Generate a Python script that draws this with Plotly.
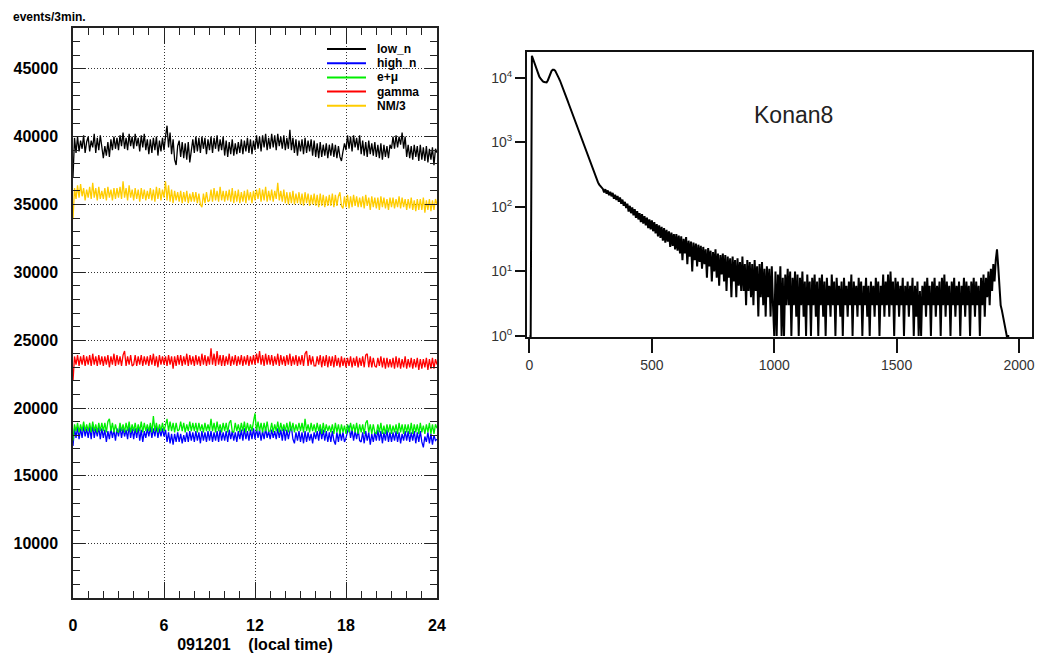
import plotly.graph_objects as go

W, H = 1037, 653

# ---------------- left panel data: counts per 3 min, sampled every 0.1 h ----------------
series_names = ["low_n", "high_n", "e+\u03bc", "gamma", "NM/3"]
series_colors = ["#000000", "#0000ff", "#00ee00", "#ff0000", "#ffcc00"]

low_n = [
    37000, 39900, 38800, 40000, 38900, 39700, 39100, 40100, 38800, 39600,
    40000, 38900, 39700, 39200, 40200, 38800, 39900, 39000, 40100, 39300,
    38400, 39300, 38600, 39600, 38500, 39800, 39000, 40000, 39100, 39900,
    39000, 40100, 39300, 40300, 39100, 39900, 39000, 40200, 39300, 40000,
    39100, 40200, 39300, 39900, 38900, 40100, 39200, 40200, 39000, 39800,
    38700, 39800, 38800, 39900, 39000, 40000, 38600, 39700, 38900, 39900,
    39000, 40000, 40800, 39200, 40300, 38700, 39800, 38300, 37900, 39300,
    39700, 38500, 39600, 38400, 39500, 38300, 39600, 38100, 39200, 39800,
    38800, 40000, 38900, 39900, 38800, 40000, 39100, 39900, 38700, 39800,
    39000, 40000, 38800, 39900, 39100, 40100, 38900, 39800, 39000, 40000,
    38600, 39700, 38500, 39600, 38700, 39800, 38600, 39500, 38700, 39600,
    38800, 39800, 38700, 39700, 38900, 39900, 38800, 39800, 38700, 39700,
    39000, 40100, 39100, 40000, 38900, 40100, 39200, 40200, 39000, 39900,
    39100, 40200, 39200, 40100, 39000, 40200, 39300, 40000, 39100, 40100,
    39000, 39900, 39100, 40500, 39000, 39900, 38800, 39800, 38600, 39700,
    38900, 39800, 38700, 39900, 38800, 39700, 38900, 39800, 38600, 39700,
    38500, 39500, 38400, 39600, 38500, 39400, 38600, 39500, 38400, 39400,
    38600, 39500, 38500, 39400, 38400, 39300, 38500, 38200, 38900, 39500,
    39000, 40100, 39100, 40000, 38900, 40100, 39200, 39900, 39000, 40100,
    38700, 39700, 38600, 39600, 38500, 39700, 38700, 39500, 38600, 39600,
    38500, 39400, 38400, 39500, 38300, 39400, 38500, 39300, 38400, 39400,
    39100, 40000, 39100, 40100, 39200, 40000, 39400, 40300, 39100, 40000,
    38500, 39400, 38400, 39300, 38300, 39400, 38500, 39300, 38200, 39400,
    38300, 39200, 38200, 39300, 38100, 39100, 38300, 39200, 37900, 39100,
    38800,
]

high_n = [
    17200, 18500, 17800, 18600, 17700, 18500, 17800, 18700, 17900, 18500,
    17800, 18600, 17700, 18800, 17800, 18500, 17900, 18600, 17700, 18500,
    17800, 18400, 17500, 18300, 17700, 18500, 17800, 18400, 17600, 18500,
    17900, 18600, 17800, 18500, 17900, 18400, 17700, 18700, 17800, 18500,
    17700, 18500, 17800, 18600, 17600, 18400, 17500, 18300, 17800, 18500,
    17900, 18600, 17800, 18500, 17900, 18700, 17800, 18500, 17900, 18500,
    17900, 18400, 17500, 18200, 17400, 18100, 17300, 18100, 17500, 18200,
    17500, 18100, 17400, 18000, 17500, 18200, 17500, 18300, 17600, 18200,
    17500, 18300, 17600, 18200, 17400, 18300, 17600, 18200, 17500, 18300,
    17600, 18300, 17500, 18200, 17600, 18300, 17500, 18400, 17600, 18200,
    17600, 18300, 17500, 18400, 17700, 18300, 17600, 18200, 17500, 18300,
    17700, 18400, 17600, 18500, 17700, 18300, 17600, 18400, 17700, 18500,
    17700, 18500, 17800, 18400, 17600, 18300, 17700, 18500, 17800, 18300,
    17700, 18400, 17800, 18300, 17700, 18500, 17800, 18400, 17600, 18500,
    17600, 18400, 17700, 18300, 18600, 17700, 17400, 18200, 17600, 18300,
    17500, 18200, 17400, 18300, 17500, 18200, 17600, 18100, 17400, 18200,
    17700, 18300, 17600, 18500, 17700, 18400, 17600, 18300, 17500, 18200,
    17500, 18300, 17600, 17300, 18200, 17500, 18300, 17600, 18200, 17500,
    17800, 18400, 18700, 17800, 18400, 17600, 18300, 17700, 18400, 17600,
    17500, 18200, 17400, 18300, 17600, 18200, 17300, 18100, 17500, 18200,
    17600, 18400, 17600, 18300, 17400, 18200, 17600, 18400, 17500, 18200,
    17500, 18200, 17600, 18300, 17500, 18200, 17400, 18100, 17600, 18300,
    17600, 18300, 17500, 18200, 17600, 18300, 17400, 18200, 17500, 18300,
    17500, 17100, 17900, 17500, 18200, 17400, 18100, 17300, 18000, 17600,
    17700,
]

e_mu = [
    17600, 18800, 18300, 18900, 18200, 18800, 18300, 19000, 18300, 18800,
    18300, 18900, 18200, 19000, 18300, 18800, 18200, 18900, 18300, 18900,
    18300, 18900, 18200, 19000, 19200, 18300, 18900, 18200, 18800, 18300,
    18200, 18900, 18300, 18800, 18200, 18900, 18300, 19000, 18200, 18800,
    18300, 18900, 18200, 18800, 18300, 19000, 18200, 18900, 18300, 18800,
    18300, 18900, 18200, 19400, 18300, 18900, 18200, 18800, 18300, 18900,
    18300, 18900, 19200, 18300, 19000, 18300, 18900, 18200, 18900, 18300,
    18400, 19000, 18300, 18900, 18200, 18800, 18300, 19000, 18300, 18900,
    18300, 18900, 18200, 18900, 18300, 18800, 18200, 18900, 18300, 18800,
    18300, 19200, 18300, 18900, 18200, 19000, 18300, 18800, 18200, 18900,
    18300, 18900, 18200, 18900, 19100, 18300, 18200, 18900, 18300, 18800,
    18200, 18900, 18300, 19000, 18200, 18900, 18300, 18800, 18300, 19000,
    19600, 18300, 19000, 18300, 18900, 18200, 18900, 18300, 19000, 18300,
    18300, 18900, 18200, 18800, 18300, 19000, 18200, 18900, 18300, 18800,
    18300, 18900, 18200, 19000, 18300, 18900, 18200, 18800, 18300, 18900,
    18300, 18900, 18200, 19200, 18300, 18800, 18200, 18900, 18300, 18800,
    18200, 18900, 18300, 18800, 18100, 18900, 18200, 18800, 18300, 18700,
    18200, 18800, 18100, 18900, 18200, 18800, 18100, 18800, 18200, 18700,
    18100, 18800, 18200, 18900, 18300, 18800, 18200, 18900, 18100, 18800,
    18200, 18800, 18100, 18900, 19100, 18200, 18800, 18100, 18800, 18200,
    18100, 18800, 18200, 18900, 18100, 18700, 18100, 18800, 18200, 18800,
    18100, 18700, 18200, 18800, 18100, 18900, 18200, 18800, 18100, 18800,
    18200, 18800, 18100, 18900, 18100, 18800, 18200, 18800, 18100, 18900,
    18200, 18700, 18100, 18800, 18200, 18900, 18100, 18800, 18100, 18800,
    18500,
]

gamma = [
    22000, 23800, 23200, 23900, 23100, 23800, 23200, 23900, 23100, 23800,
    23200, 23900, 23100, 24000, 23200, 23800, 23100, 23900, 23200, 23800,
    23100, 23800, 23200, 23900, 23000, 23800, 23200, 24000, 23100, 23900,
    23200, 23800, 23100, 23900, 24200, 23100, 23800, 23200, 23900, 23100,
    23200, 23900, 23100, 23800, 23200, 23900, 23100, 23800, 23200, 23800,
    23100, 23900, 23200, 24000, 23100, 23800, 23000, 23900, 23200, 23800,
    23200, 23800, 23100, 23900, 23200, 23800, 22900, 23800, 23100, 23900,
    23200, 23900, 23100, 23800, 23200, 24000, 23100, 23900, 23200, 23800,
    23100, 23900, 23200, 23800, 23100, 24000, 23200, 23900, 23100, 23800,
    23200, 24400, 23200, 24000, 23100, 24200, 23200, 23900, 23100, 23900,
    23100, 23800, 23200, 24000, 23100, 23800, 23200, 23900, 23100, 23800,
    23200, 23900, 23100, 23800, 23200, 23900, 23100, 23800, 23200, 23900,
    23200, 24000, 23300, 24200, 23200, 23900, 23100, 24000, 23200, 23900,
    23200, 23900, 23100, 23800, 23200, 24000, 23100, 23900, 23200, 23800,
    23100, 23900, 23200, 24000, 23100, 23800, 23200, 23900, 23100, 23800,
    23200, 23900, 23100, 24000, 24200, 23100, 23900, 23200, 23800, 23100,
    23100, 23800, 23200, 23900, 23000, 23800, 23100, 23900, 23000, 23800,
    23100, 23800, 23000, 23900, 23100, 23700, 23000, 23800, 23100, 23700,
    23000, 23700, 23100, 23800, 23000, 23700, 23100, 23800, 23000, 23700,
    23100, 23800, 23000, 23900, 24000, 23000, 23800, 23000, 23700, 23100,
    23000, 23700, 23100, 23800, 23000, 23700, 22900, 23700, 23000, 23600,
    23000, 23700, 22900, 23800, 23000, 23700, 22900, 23600, 23000, 23800,
    22900, 23600, 23000, 23700, 22900, 23600, 23000, 23700, 22800, 23600,
    22900, 23600, 23000, 23700, 22800, 23600, 22900, 23700, 22900, 23600,
    23200,
]

nm3 = [
    33900, 36200, 35400, 36400, 35500, 36500, 35600, 36200, 35300, 36100,
    35500, 36300, 35400, 36600, 35500, 36200, 35300, 36300, 35400, 36000,
    35400, 36200, 35300, 36300, 35500, 36100, 35300, 36200, 35400, 36200,
    35500, 36300, 35400, 36700, 35500, 36200, 35300, 36400, 35500, 36100,
    35300, 36200, 35400, 36100, 35200, 36200, 35400, 36100, 35300, 36000,
    35400, 36200, 35300, 36100, 35200, 36300, 35400, 36200, 35300, 36100,
    35500, 36700, 35300, 36400, 35200, 36100, 35100, 36000, 35300, 35900,
    35200, 36000, 35100, 35900, 35200, 36000, 35100, 35800, 35200, 35900,
    35200, 35900, 35100, 35800, 35000, 34800, 35800, 35100, 35900, 35200,
    35300, 36100, 35200, 36200, 35300, 36000, 35200, 36300, 35300, 36000,
    35200, 36000, 35300, 36100, 35200, 36200, 35100, 36000, 35200, 36100,
    35100, 35900, 35200, 36000, 35100, 36100, 35300, 35900, 35100, 36000,
    35300, 36100, 35400, 36200, 35200, 36100, 35300, 36300, 35200, 36000,
    35300, 36100, 35200, 36000, 35400, 36600, 35300, 36000, 35200, 36100,
    35100, 35900, 35000, 35900, 35100, 36000, 35000, 35800, 35100, 35900,
    35000, 35800, 34900, 35900, 35100, 35800, 34900, 35700, 35000, 35800,
    34900, 35700, 34800, 35800, 34900, 35700, 34800, 35600, 34900, 35700,
    34900, 35800, 34800, 35700, 34900, 35600, 35900, 34900, 34700, 35600,
    34800, 35700, 34700, 35600, 34800, 35700, 34900, 35600, 34800, 35500,
    34800, 35600, 34700, 35700, 34900, 35500, 34600, 35600, 34800, 35500,
    34700, 35500, 34600, 35600, 34800, 35500, 34700, 35400, 34600, 35500,
    34800, 35500, 34700, 35400, 34800, 35600, 34700, 35500, 34800, 35400,
    34600, 35400, 34700, 35500, 34600, 35300, 34500, 35400, 34600, 35400,
    34600, 35500, 34400, 35300, 34600, 35400, 34500, 35300, 34600, 35400,
    35000,
]

series_values = [low_n, high_n, e_mu, gamma, nm3]

time_ticks = [0, 6, 12, 18, 24]
time_title = "091201\u00a0\u00a0\u00a0\u00a0(local time)"
left_ylabel = "events/3min."

# ---------------- right panel data: pulse-height histogram, 5-channel steps ----------------
hist_counts = [
    1, 1, 22000, 19500, 17000, 15000, 13000, 11600, 10500, 9800, 9200, 8800, 8600, 8500, 8500, 9100, 10200, 11600, 12700, 13300,
    13300, 12900, 12000, 10900, 9900, 9000, 8100, 7200, 6400, 5700, 5100, 4500, 4000, 3550, 3150, 2800, 2500, 2220, 1980, 1760,
    1570, 1400, 1250, 1120, 1000, 900, 800, 710, 630, 560, 500, 440, 390, 345, 300, 265, 240, 222, 208, 196,
    190, 168, 188, 160, 180, 152, 172, 146, 165, 134, 154, 128, 148, 120, 140, 112, 130, 104, 120, 96,
    112, 85, 104, 80, 98, 74, 92, 68, 86, 64, 80, 58, 77, 55, 72, 52, 68, 47, 64, 45,
    62, 42, 58, 39, 54, 35, 52, 33, 49, 30, 47, 28, 44, 29, 42, 24, 40, 25, 38, 22,
    38, 21, 36, 19, 35, 15, 32, 19, 34, 13, 30, 17, 29, 10, 28, 15, 27, 12, 26, 14,
    25, 11, 24, 13, 22, 8, 23, 12, 21, 7, 20, 10, 22, 8, 19, 6, 18, 9, 19, 7,
    18, 5, 17, 8, 16, 4, 17, 7, 15, 4, 16, 6, 14, 5, 17, 5, 13, 3, 15, 5,
    14, 4, 13, 3, 15, 5, 12, 2, 13, 4, 14, 3, 11, 2, 12, 4, 11, 2, 12, 3,
    1, 10, 1, 9, 3, 12, 1, 8, 1, 9, 3, 11, 3, 10, 1, 8, 3, 10, 2, 9,
    1, 8, 3, 10, 2, 7, 1, 9, 3, 7, 1, 8, 3, 9, 2, 7, 1, 8, 3, 9,
    2, 7, 1, 8, 3, 6, 2, 9, 3, 7, 1, 8, 3, 6, 2, 7, 1, 8, 3, 6,
    2, 7, 3, 9, 1, 7, 3, 6, 2, 8, 3, 7, 1, 6, 3, 8, 2, 6, 1, 7,
    3, 6, 2, 8, 3, 7, 1, 6, 3, 9, 2, 7, 3, 9, 2, 10, 3, 7, 1, 8,
    3, 7, 2, 6, 3, 8, 1, 6, 3, 7, 2, 6, 3, 8, 1, 6, 2, 7, 1, 5,
    1, 6, 3, 7, 2, 8, 3, 6, 1, 7, 3, 8, 2, 6, 3, 7, 1, 8, 3, 9,
    2, 7, 3, 6, 1, 7, 3, 8, 2, 6, 3, 7, 1, 6, 3, 8, 2, 7, 3, 6,
    1, 7, 3, 8, 2, 7, 3, 6, 1, 8, 3, 9, 2, 8, 4, 10, 3, 11, 5, 13,
    7, 15, 22, 12, 5, 3, 2.5, 2, 1.5, 1.3, 1, 1, 1,
]
hist_channels = [5 * i for i in range(len(hist_counts))]
hist_xticks = [0, 500, 1000, 1500, 2000]
hist_yticks = [1, 10, 100, 1000, 10000]
hist_ytext = ["10<sup>0</sup>", "10<sup>1</sup>", "10<sup>2</sup>", "10<sup>3</sup>", "10<sup>4</sup>"]
hist_title = "Konan8"

# ---------------- figure ----------------
fig = go.Figure()

for name, vals, color in zip(series_names, series_values, series_colors):
    n = len(vals)
    hours = [24.0 * i / (n - 1) for i in range(n)]
    fig.add_trace(go.Scatter(
        x=hours, y=vals, mode="lines", name=name,
        line=dict(color=color, width=1.3),
        xaxis="x", yaxis="y", showlegend=False,
    ))

fig.add_trace(go.Scatter(
    x=hist_channels, y=hist_counts, mode="lines", name=hist_title,
    line=dict(color="#000000", width=2),
    xaxis="x2", yaxis="y2", showlegend=False,
))


def px_x(v):
    return v / W


def px_y(v):
    return 1 - v / H


FONT = "Liberation Sans, Arial, sans-serif"
bold = dict(family=FONT, size=16, color="#000000", weight="bold")
frame = "#222222"
grid = dict(showgrid=True, gridcolor="#333333", griddash="1px,2px", gridwidth=1)

fig.update_layout(
    width=W, height=H,
    margin=dict(l=0, r=0, t=0, b=0),
    paper_bgcolor="white", plot_bgcolor="white",
    showlegend=False,
    xaxis=dict(
        domain=[px_x(73), px_x(437)], range=[0, 24], anchor="y", automargin=False,
        tickvals=time_ticks, ticks="inside", ticklen=16, tickwidth=1, tickcolor=frame,
        minor=dict(dtick=1, tick0=0, ticks="inside", ticklen=7, tickwidth=1, tickcolor=frame),
        showline=True, linecolor=frame, linewidth=1.5, mirror="ticks",
        zeroline=False, tickfont=bold, ticklabelstandoff=12,
        title=dict(text=time_title, font=bold, standoff=10),
        **grid,
    ),
    yaxis=dict(
        domain=[px_y(598), px_y(28)], range=[6000, 48000], anchor="x", automargin=False,
        tick0=0, dtick=5000, tickformat="d", ticks="inside", ticklen=12, tickwidth=1, tickcolor=frame,
        minor=dict(dtick=1000, tick0=0, ticks="inside", ticklen=7, tickwidth=1, tickcolor=frame),
        showline=True, linecolor=frame, linewidth=1.5, mirror="ticks",
        zeroline=False, tickfont=bold, ticklabelstandoff=10,
        **grid,
    ),
    xaxis2=dict(
        domain=[px_x(527), px_x(1032)], range=[-10, 2053], anchor="y2", automargin=False,
        tickvals=hist_xticks, ticks="outside", ticklen=14, tickwidth=2, tickcolor="#111111",
        showline=True, linecolor="#111111", linewidth=2, mirror=True,
        showgrid=False, zeroline=False,
        tickfont=dict(family=FONT, size=14, color="#333333"),
    ),
    yaxis2=dict(
        domain=[px_y(337), px_y(52)], type="log", range=[-0.015, 4.4], anchor="x2", automargin=False,
        tickvals=hist_yticks, ticktext=hist_ytext, ticks="outside", ticklen=10, tickwidth=2,
        tickcolor="#111111",
        showline=True, linecolor="#111111", linewidth=2, mirror=True,
        showgrid=False, zeroline=False,
        tickfont=dict(family=FONT, size=14, color="#333333"),
    ),
)

annotations = [
    dict(text=left_ylabel, x=px_x(11), y=px_y(17), xref="paper", yref="paper",
         xanchor="left", yanchor="middle", showarrow=False,
         font=dict(family=FONT, size=12, color="#000000", weight="bold")),
    dict(text=hist_title, x=px_x(793), y=px_y(115), xref="paper", yref="paper",
         xanchor="center", yanchor="middle", showarrow=False,
         font=dict(family=FONT, size=23, color="#222222")),
]
shapes = []
for i, (name, color) in enumerate(zip(series_names, series_colors)):
    yy = 49 + 14.2 * i
    shapes.append(dict(type="line", xref="paper", yref="paper",
                       x0=px_x(327), x1=px_x(366), y0=px_y(yy), y1=px_y(yy),
                       line=dict(color=color, width=2)))
    annotations.append(dict(text=name, x=px_x(375), y=px_y(yy), xref="paper", yref="paper",
                            xanchor="left", yanchor="middle", showarrow=False,
                            font=dict(family=FONT, size=12, color="#000000", weight="bold")))
fig.update_layout(annotations=annotations, shapes=shapes)

fig.write_html(
    "out.html",
    config={"displayModeBar": False},
    post_script="document.body.style.margin='0';document.body.style.overflow='hidden';",
)
